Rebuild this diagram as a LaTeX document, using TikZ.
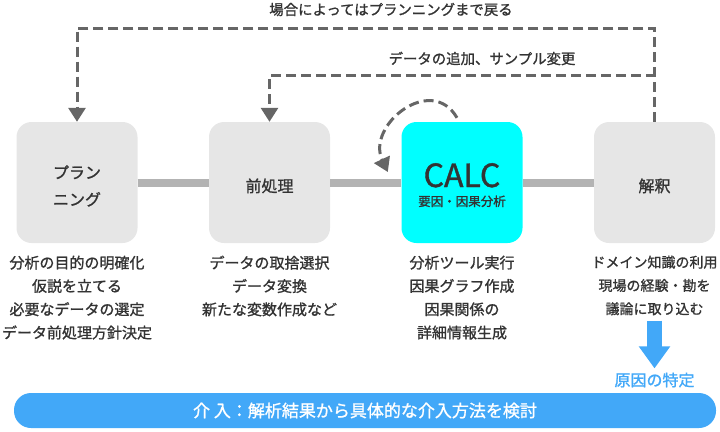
\documentclass[tikz,border=0pt]{standalone}
\usepackage{fontspec}
\setmainfont{Noto Sans CJK JP}[FakeBold=1.2]
\usepackage{tikz}
\usetikzlibrary{arrows.meta}

\definecolor{boxgray}{HTML}{E6E6E6}
\definecolor{calccyan}{HTML}{00FFFF}
\definecolor{bargray}{HTML}{B3B3B3}
\definecolor{backgray}{HTML}{666666}
\definecolor{textdark}{HTML}{333333}
\definecolor{infoblue}{HTML}{42A8F8}

\begin{document}
\begin{tikzpicture}
  [
    x=1pt, y=-1pt,
    >={Triangle[length=14pt,width=17pt]},
    node distance=192.5pt,
    text=textdark,
    main node/.style={rectangle, rounded corners=15pt, fill=boxgray, minimum size=121pt, inner sep=0pt, align=center, text height=19pt, text depth=0pt, font=\fontsize{16}{27}\selectfont},
    note/.style={anchor=north, inner sep=0pt, align=center, font=\fontsize{15}{23.3}\selectfont},
    bar/.style={line width=8pt, bargray},
    back/.style={->, dash pattern=on 10pt off 5pt, line width=3pt, backgray},
    title/.style={inner sep=0pt, font=\fontsize{14.4}{16}\selectfont}
    ]

  \useasboundingbox (0,0) rectangle (720,431);

  \node [main node] (1) at (77,182.5) [text height=46pt] {プラン\\ニング};
  \node [main node] (2) [right of=1] {前処理};
  \node [main node, fill=calccyan] (3) [right of=2] [text height=47pt, font=\fontsize{12.5}{19}\selectfont]
    {{\fontsize{32}{32}\selectfont CALC}\\要因・因果分析};
  \node [main node] (4) [right of=3] {解釈};

  \draw [bar] (1) -- (2);
  \draw [bar] (2) -- (3);
  \draw [bar] (3) -- (4);

  % notes under the boxes
  \node [note] (d1) [below of=1, node distance=73pt, anchor=north]
    {分析の目的の明確化\\仮説を立てる\\必要なデータの選定\\データ前処理方針決定};
  \node [note] (d2) [below of=2, node distance=73pt, anchor=north]
    {データの取捨選択\\データ変換\\新たな変数作成など};
  \node [note] (d3) [below of=3, node distance=73pt, anchor=north]
    {分析ツール実行\\因果グラフ作成\\因果関係の\\詳細情報生成};
  \node [note, font=\fontsize{14}{23.3}\selectfont] (d4) [below of=4, node distance=73pt, anchor=north]
    {ドメイン知識の利用\\現場の経験・勘を\\議論に取り込む};

  \node [inner sep=0pt, text=infoblue, font=\fontsize{16}{18}\selectfont] (5) [below of=4, node distance=197.5pt] {原因の特定};
  \draw [line width=15pt, infoblue, -{Triangle[length=22pt,width=30pt]}, shorten <=5pt, shorten >=4pt] (d4) -- (5);

  \node [rectangle, rounded corners=17pt, minimum width=702pt, minimum height=35pt, fill=infoblue, text=white, font=\fontsize{17}{20}\selectfont] (6) at (365,410.5)
    {介 入：解析結果から具体的な介入方法を検討};

  % feedback loops
  \coordinate (top1) at (390,28);
  \coordinate (top2) at (480,75.5);
  \node [title] (t1) at (391,9.5) {場合によってはプランニングまで戻る};
  \node [title] (t2) at (482,58.5) {データの追加、サンプル変更};
  \draw [back] (4.north) |- (top1) -| (1.north);
  \draw [back] (4.north) |- (top2) -| (2.north);
  \draw [back] ([shift={(-5,-4)}]3.north) to [out=120, in=115, looseness=1.5] ([shift={(-13.5,-10.5)}]3.west);
\end{tikzpicture}
\end{document}
